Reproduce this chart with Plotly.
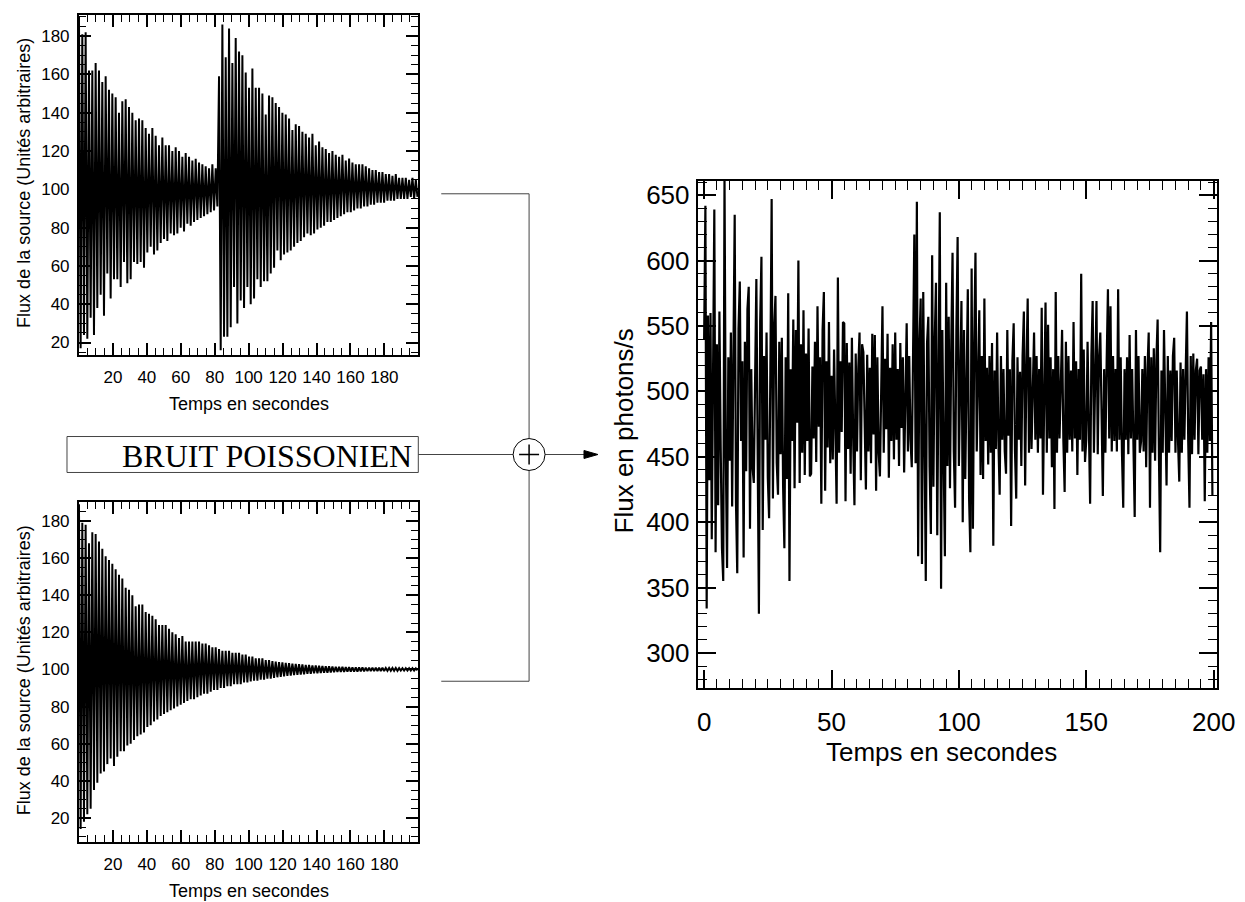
import numpy as np
import plotly.graph_objects as go

# ---- data ----
# top-left source: two damped bursts, one peak and one trough per cycle
top_peaks = [190, 181, 182, 162, 162, 166, 162, 156, 159, 152, 150, 148, 140, 146, 147,
             143, 140, 136, 137, 136, 132, 129, 132, 128, 123, 127, 123, 123, 120, 122,
             120, 117, 119, 117, 115, 116, 114, 113, 112, 111, 113, 111,
             159, 186, 169, 184, 166, 179, 172, 170, 161, 153, 163, 153, 153, 150, 139,
             149, 148, 145, 143, 140, 139, 137, 131, 134, 133, 130, 129, 127, 129, 123,
             125, 122, 121, 119, 120, 118, 117, 118, 115, 116, 114, 113, 113, 113, 112,
             111, 110, 110, 109, 109, 108, 108, 107, 108, 106, 106, 106, 105, 106, 105]
top_troughs = [17, 24, 22, 33, 24, 38, 45, 34, 56, 43, 53, 53, 49, 62, 51, 53, 62, 61, 62,
               59, 67, 70, 66, 68, 72, 74, 73, 77, 76, 77, 80, 78, 82, 81, 83, 84, 85, 86,
               87, 88, 89, 91,
               16, 23, 23, 28, 49, 30, 42, 38, 49, 40, 43, 53, 49, 52, 52, 56, 59, 68, 63,
               66, 67, 68, 70, 72, 73, 75, 77, 76, 77, 79, 80, 81, 83, 83, 84, 85, 86, 87,
               88, 88, 89, 90, 90, 91, 91, 92, 92, 93, 93, 93, 94, 94, 94, 95, 95, 95, 95,
               96, 95, 96]

# bottom-left source: single damped burst
bot_peaks = [189, 179, 178, 168, 174, 173, 169, 165, 161, 159, 157, 154, 151, 149, 144,
             143, 140, 134, 135, 135, 131, 130, 129, 127, 124, 124, 124, 122, 120, 119,
             117, 118, 115, 115, 115, 115, 115, 114, 114, 113, 112, 112, 111, 110, 110,
             110, 109, 109, 109, 108, 108, 107, 107, 106, 106, 106, 105, 105, 104.5,
             104.3, 104, 103.8, 103.6, 103.4, 103.2, 103, 102.8, 102.7, 102.5, 102.4,
             102.2, 102.1, 102, 101.9, 101.8, 101.7, 101.6, 101.5, 101.5, 101.4, 101.3,
             101.3, 101.2, 101.2, 101.1, 101.1, 101, 101, 101, 100.9, 100.9, 100.9, 100.8,
             100.8, 100.8, 100.8, 100.7, 100.7, 100.7, 100.7, 100.7, 100.6]
bot_troughs = [14, 18, 22, 25, 35, 39, 44, 45, 49, 52, 48, 53, 56, 56, 59, 60, 62, 64, 65,
               66, 69, 70, 72, 73, 75, 76, 77, 78, 79, 80, 81, 82, 83, 84, 84, 85, 86, 87,
               87, 88, 89, 89, 90, 90, 91, 91, 92, 92, 92, 93, 93, 93.5, 94, 94, 94.5,
               94.5, 95, 95, 95.5,
               95.8, 96, 96.3, 96.5, 96.7, 96.9, 97.1, 97.3, 97.4, 97.6, 97.7, 97.9, 98,
               98.1, 98.2, 98.3, 98.4, 98.5, 98.6, 98.6, 98.7, 98.8, 98.8, 98.9, 98.9, 99,
               99, 99.1, 99.1, 99.1, 99.2, 99.2, 99.2, 99.3, 99.3, 99.3, 99.3, 99.4, 99.4,
               99.4, 99.4, 99.4, 99.5]

# right: observed count rate, one value every 0.5 s (rows of 10 s)
flux = [
    540, 642, 334, 558, 432, 560, 387, 521, 639, 377, 536, 413, 561, 457, 380, 355, 665, 452, 365, 526,
    447, 545, 412, 530, 635, 415, 361, 548, 584, 462, 523, 373, 538, 439, 563, 580, 395, 517, 442, 430,
    531, 586, 457, 330, 553, 603, 394, 527, 463, 545, 434, 403, 516, 647, 418, 549, 573, 445, 421, 538,
    452, 541, 427, 380, 526, 433, 575, 355, 517, 462, 555, 426, 547, 476, 600, 430, 536, 453, 562, 436,
    529, 462, 548, 435, 437, 519, 464, 538, 446, 565, 473, 526, 414, 547, 576, 424, 523, 457, 553, 445,
    512, 448, 532, 468, 414, 587, 453, 523, 469, 553, 552, 416, 537, 456, 522, 437, 541, 465, 413, 529,
    454, 517, 545, 432, 536, 530, 465, 425, 528, 454, 518, 445, 544, 467, 543, 424, 526, 453, 435, 517,
    565, 453, 525, 471, 544, 434, 518, 462, 536, 448, 545, 463, 517, 443, 537, 472, 526, 438, 516, 552,
    454, 527, 463, 442, 528, 620, 445, 645, 374, 536, 571, 368, 576, 454, 355, 537, 557, 442, 391, 604,
    427, 538, 583, 390, 526, 637, 349, 547, 452, 374, 583, 443, 557, 426, 536, 606, 454, 411, 546, 618,
    443, 527, 569, 400, 547, 433, 526, 578, 418, 377, 594, 395, 536, 606, 454, 525, 562, 436, 527, 433,
    571, 462, 518, 444, 527, 453, 537, 382, 516, 456, 545, 462, 421, 527, 463, 517, 454, 437, 547, 466,
    517, 397, 523, 552, 455, 418, 526, 463, 515, 443, 527, 561, 428, 518, 571, 453, 526, 456, 514, 545,
    463, 527, 453, 517, 464, 564, 421, 516, 568, 453, 551, 464, 526, 442, 517, 410, 576, 453, 527, 464,
    516, 547, 463, 423, 538, 453, 527, 463, 516, 454, 553, 464, 523, 436, 517, 463, 590, 454, 532, 446,
    463, 538, 474, 414, 527, 569, 453, 514, 569, 452, 526, 545, 464, 420, 517, 453, 523, 578, 464, 565,
    454, 527, 462, 517, 454, 578, 463, 526, 453, 411, 517, 463, 526, 452, 543, 464, 517, 453, 404, 547,
    463, 527, 453, 462, 517, 454, 527, 442, 516, 545, 411, 526, 453, 533, 447, 524, 555, 453, 377, 516,
    453, 547, 464, 428, 527, 453, 516, 462, 527, 541, 453, 516, 462, 431, 522, 453, 517, 463, 514, 561,
    463, 411, 527, 452, 529, 463, 516, 525, 452, 516, 519, 463, 513, 416, 517, 453, 526, 462, 553, 420,
]

small_ticks = [20, 40, 60, 80, 100, 120, 140, 160, 180]
right_xticks = [0, 50, 100, 150, 200]
right_yticks = [300, 350, 400, 450, 500, 550, 600, 650]

# page geometry: 8 px body margin, and the snapshot comes out ~1.4 % narrower
PAGE = 8
SX = 0.986
W, H = 1255, 902 - PAGE


def px(x):
    return (x / SX - PAGE) / W


def py(y):
    return 1 - (y - PAGE) / H


def zigzag(peaks, troughs):
    vals = [v for pair in zip(peaks, troughs) for v in pair]
    return np.linspace(0, 199.5, len(vals)), vals


t_top, s_top = zigzag(top_peaks, top_troughs)
t_bot, s_bot = zigzag(bot_peaks, bot_troughs)
t_flux = np.arange(len(flux)) * 0.5

fig = go.Figure()
fig.add_trace(go.Scatter(x=t_top, y=s_top, mode="lines",
                         line=dict(color="black", width=2), xaxis="x", yaxis="y"))
fig.add_trace(go.Scatter(x=t_bot, y=s_bot, mode="lines",
                         line=dict(color="black", width=2), xaxis="x2", yaxis="y2"))
fig.add_trace(go.Scatter(x=t_flux, y=flux, mode="lines",
                         line=dict(color="black", width=2.2), xaxis="x3", yaxis="y3"))


def axis(domain, rng, tickvals, minor_dtick, ticklen, minorlen, size, standoff, anchor):
    return dict(
        domain=domain, range=rng, anchor=anchor,
        tickmode="array", tickvals=tickvals,
        ticks="inside", ticklen=ticklen, tickwidth=1.5, tickcolor="black",
        minor=dict(ticks="inside", ticklen=minorlen, tickmode="linear", tick0=0,
                   dtick=minor_dtick, tickwidth=1, tickcolor="black", showgrid=False),
        showline=True, linecolor="black", linewidth=2, mirror="ticks",
        showgrid=False, zeroline=False, ticklabelstandoff=standoff,
        tickfont=dict(family="Liberation Sans", size=size, color="black"),
    )


left_x = [px(78), px(418)]
fig.update_layout(
    width=W, height=H, margin=dict(l=0, r=0, t=0, b=0),
    paper_bgcolor="white", plot_bgcolor="white", showlegend=False,
    xaxis=axis(left_x, [0, 200], small_ticks, 5, 12, 7, 17, 6, "y"),
    yaxis=axis([py(354), py(14)], [13.7, 191], small_ticks, 5, 12, 7, 17, 4, "x"),
    xaxis2=axis(left_x, [0, 200], small_ticks, 5, 12, 7, 17, 6, "y2"),
    yaxis2=axis([py(842), py(502)], [7, 190], small_ticks, 5, 12, 7, 17, 4, "x2"),
    xaxis3=axis([px(698), px(1218)], [-2.5, 201.2], right_xticks, 5, 18, 9, 26, 10, "y3"),
    yaxis3=axis([py(688), py(180)], [273, 661], right_yticks, 10, 18, 9, 26, 1, "x3"),
)

# axis titles placed where the reference has them
sans = dict(family="Liberation Sans", color="black")
titles = [
    ("Temps en secondes", 248, 403, 0, 18),
    ("Temps en secondes", 248, 891, 0, 18),
    ("Temps en secondes", 942, 752, 0, 26),
    ("Flux de la source (Unités arbitraires)", 23, 182, -90, 18),
    ("Flux de la source (Unités arbitraires)", 23, 670, -90, 18),
    ("Flux en photons/s", 624, 430, -90, 26),
]
for text, x, y, angle, size in titles:
    fig.add_annotation(text=text, x=px(x), y=py(y), xref="paper", yref="paper",
                       showarrow=False, textangle=angle, xanchor="center", yanchor="middle",
                       font=dict(size=size, **sans))

# block diagram: noise box, summing node, connections and arrow
grey = "#444444"
fig.add_shape(type="rect", xref="paper", yref="paper", x0=px(66), x1=px(418),
              y0=py(472), y1=py(436), line=dict(color=grey, width=1))
fig.add_annotation(text="BRUIT POISSONIEN", x=px(414), y=py(455), xref="paper", yref="paper",
                   showarrow=False, xanchor="right", yanchor="middle",
                   font=dict(family="Liberation Serif", size=32, color="black"))

cx, cy, r = 529, 454, 16
segments = [
    (418, 454, cx - r, 454),
    (cx + r, 454, 586, 454),
    (441, 193, cx, 193),
    (cx, 193, cx, cy - r),
    (441, 681, cx, 681),
    (cx, cy + r, cx, 681),
]
for x0, y0, x1, y1 in segments:
    fig.add_shape(type="line", xref="paper", yref="paper", x0=px(x0), y0=py(y0),
                  x1=px(x1), y1=py(y1), line=dict(color=grey, width=1))
fig.add_shape(type="circle", xref="paper", yref="paper", x0=px(cx - r), x1=px(cx + r),
              y0=py(cy + r), y1=py(cy - r), line=dict(color="black", width=1))
for x0, y0, x1, y1 in [(cx - 10, cy, cx + 10, cy), (cx, cy - 10, cx, cy + 10)]:
    fig.add_shape(type="line", xref="paper", yref="paper", x0=px(x0), y0=py(y0),
                  x1=px(x1), y1=py(y1), line=dict(color="black", width=1.5))
fig.add_shape(type="path", xref="paper", yref="paper",
              path=f"M {px(584)},{py(450)} L {px(598)},{py(454)} L {px(584)},{py(458)} Z",
              fillcolor="black", line=dict(color="black", width=1))

fig.write_html("out.html")
